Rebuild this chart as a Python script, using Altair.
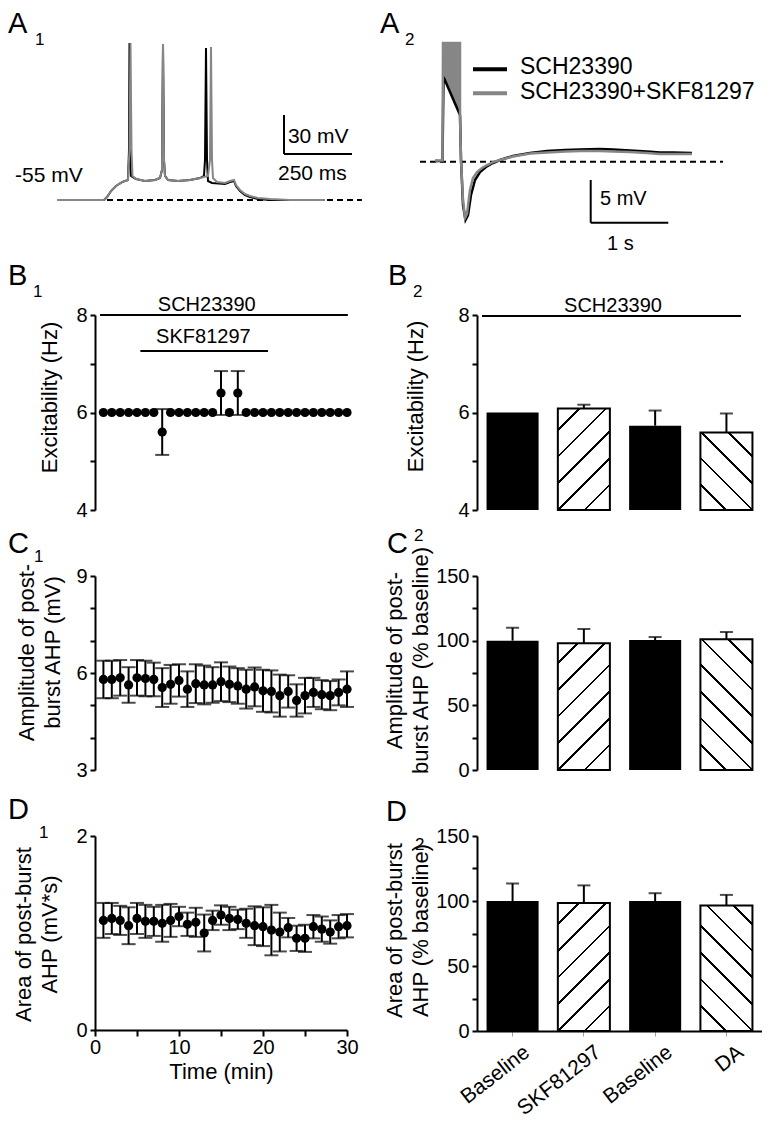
import math
import altair as alt
import pandas as pd

FONT = "Liberation Sans"
GRAY = "#868686"

# ---------------- A1: current-step responses (time ms, Vm mV) ----------------
a1_black_t = [0, 173, 184, 198.5, 216.9, 239, 261, 264.7, 266.5, 268.4, 272, 290.4, 323.5, 360.3, 378.7,
              386, 389.7, 393.4, 397.1, 408.1, 444.9, 489, 525.7, 540.4, 544.1, 547.8, 551.5, 555.1, 569.9,
              617.6, 636, 650.7, 658.1, 672.8, 691.2, 709.6, 739, 783.1, 985.3]
a1_black_v = [-55, -55, -52.7, -48.1, -44.2, -41.2, -39.6, -16.5, 65.8, -16.5, -36.5, -38.8, -40.4, -39.6, -38.1,
              -31.9, 65, -24.2, -36.5, -39.6, -40.4, -39.6, -38.1, -36.5, -24.2, 61.9, -24.2, -40.4, -41.9,
              -42.7, -41.2, -40.4, -44.2, -48.1, -51.2, -52.7, -54.2, -55, -55]
a1_gray_t = [0, 173, 184, 198.5, 216.9, 239, 261, 266.5, 270.2, 273.9, 277.6, 290.4, 323.5, 360.3, 378.7,
             386, 389.7, 393.4, 397.1, 408.1, 444.9, 489, 525.7, 555.1, 562.5, 566.2, 569.9, 573.5, 588.2,
             617.6, 636, 650.7, 658.1, 672.8, 691.2, 709.6, 739, 783.1, 856.6, 985.3]
a1_gray_v = [-55, -55, -52.7, -48.1, -44.2, -41.2, -39.6, -16.5, 65.8, -16.5, -36.5, -38.8, -40.4, -39.6, -38.1,
             -31.9, 65, -24.2, -36.5, -39.6, -40.4, -39.6, -38.1, -36.5, -24.2, 62.7, -24.2, -38.1, -41.2,
             -41.9, -40.4, -39.6, -43.5, -47.3, -50.4, -51.9, -53.5, -54.2, -55, -55]

# ---------------- A2: post-burst AHP (time ms, mV from baseline) ----------------
a2_black_t = [0, 96.6, 109.5, 322.2, 335.1, 360.8, 393, 425.3, 463.9, 515.5, 579.9, 657.2, 747.4, 837.6,
              1005.2, 1224.2, 1443.3, 1675.3, 1868.6, 2126.3, 2293.8, 2512.9, 2731.9, 2899.5, 3067, 3311.9]
a2_black_v = [0.08, 0.08, 9.92, 5.47, 0.2, -5.07, -6.83, -6.24, -3.9, -2.14, -1.21, -0.62, -0.15, 0.2,
              0.67, 1.02, 1.25, 1.37, 1.43, 1.49, 1.43, 1.31, 1.19, 1.08, 1.08, 1.02]
a2_gray_t = [0, 96.6, 103.1, 322.2, 322.2, 335.1, 360.8, 386.6, 412.4, 451, 489.7, 541.2, 605.7, 670.1,
             747.4, 837.6, 1005.2, 1224.2, 1443.3, 1675.3, 1868.6, 2126.3, 2293.8, 2512.9, 2731.9, 2899.5,
             3067, 3311.9]
a2_gray_v = [0.14, 0.14, 13.9, 13.9, 5.47, 0.2, -4.48, -6.59, -6.12, -3.31, -1.91, -1.21, -0.74, -0.39,
             -0.04, 0.2, 0.61, 0.96, 1.08, 1.19, 1.25, 1.25, 1.19, 1.14, 1.02, 0.9, 0.9, 0.9]
a2_burst_t = [103.1, 322.2]
a2_burst_top = [13.9, 13.9]
a2_burst_bottom = [9.92, 5.47]
legend_labels = ["SCH23390", "SCH23390+SKF81297"]

# ---------------- B1 / C1 / D1: time courses ----------------
minutes = [1, 2, 3, 4, 5, 6, 7, 8, 9, 10, 11, 12, 13, 14, 15, 16, 17, 18, 19, 20,
           21, 22, 23, 24, 25, 26, 27, 28, 29, 30]
b1_mean = [6, 6, 6, 6, 6, 6, 6, 5.6, 6, 6, 6, 6, 6, 6, 6.4, 6.0, 6.4, 6, 6, 6,
           6, 6, 6, 6, 6, 6, 6, 6, 6, 6]
b1_sem = [0, 0, 0, 0, 0, 0, 0, 0.47, 0, 0, 0, 0, 0, 0, 0.45, 0, 0.45, 0, 0, 0,
          0, 0, 0, 0, 0, 0, 0, 0, 0, 0]
c1_mean = [5.80, 5.80, 5.85, 5.63, 5.85, 5.83, 5.80, 5.55, 5.65, 5.77, 5.50, 5.67, 5.63, 5.63, 5.73,
           5.65, 5.60, 5.50, 5.57, 5.45, 5.43, 5.30, 5.43, 5.15, 5.30, 5.40, 5.33, 5.30, 5.40, 5.50]
c1_sem = [0.58, 0.58, 0.55, 0.55, 0.55, 0.55, 0.52, 0.60, 0.60, 0.50, 0.55, 0.60, 0.60, 0.55, 0.60,
          0.55, 0.55, 0.60, 0.60, 0.65, 0.65, 0.65, 0.50, 0.50, 0.55, 0.45, 0.45, 0.45, 0.40, 0.55]
d1_mean = [1.13, 1.15, 1.13, 1.075, 1.15, 1.12, 1.12, 1.10, 1.13, 1.17, 1.09, 1.11, 1.00, 1.13, 1.185,
           1.15, 1.14, 1.10, 1.075, 1.065, 1.03, 1.01, 1.055, 0.945, 0.945, 1.065, 1.04, 1.01, 1.065, 1.075]
d1_sem = [0.18, 0.16, 0.15, 0.19, 0.16, 0.17, 0.15, 0.19, 0.17, 0.10, 0.12, 0.15, 0.19, 0.10, 0.10,
          0.12, 0.10, 0.15, 0.20, 0.20, 0.26, 0.20, 0.10, 0.13, 0.14, 0.12, 0.13, 0.12, 0.12, 0.12]

# ---------------- B2 / C2 / D2: bar summaries ----------------
bar_labels = ["Baseline", "SKF81297", "Baseline", "DA"]
bar_style = ["solid", "fwd", "solid", "back"]
b2_mean = [6.0, 6.08, 5.73, 5.59]
b2_sem = [0.0, 0.08, 0.31, 0.39]
c2_mean = [100, 98, 100.5, 101]
c2_sem = [10, 11, 2.3, 5.7]
d2_mean = [100, 98.5, 100, 96.5]
d2_sem = [13.5, 13.5, 6, 8.2]

# ---------------- layout ----------------
LW, RW = 252, 285
A_H, B_H, C_H, D1_H, D2_H = 209, 195, 194, 194, 195
P_IN, P_OUT = 0.27, 0.134
ONE = pd.DataFrame({"k": [0]})


def px_text(txt, x, y, size, align="left"):
    return alt.Chart(ONE).mark_text(text=txt, fontSize=size, font=FONT, align=align,
                                    baseline="alphabetic", color="black").encode(
        x=alt.value(x), y=alt.value(y))


def panel_label(letter, sub, lx, ly, sx, sy):
    return [px_text(letter, lx, ly, 29), px_text(sub, sx, sy, 17)]


def trace_df(t, v):
    return pd.DataFrame({"t": t, "v": v, "i": list(range(len(t)))})


def hatch(W, H, kind, period=26.7, lw=2.0):
    total = W + H
    half = lw * math.sqrt(2) / 2
    ref = H if kind == "fwd" else W
    centers = [ref + m * period for m in range(-60, 61) if -half < ref + m * period < total + half]
    stops = [{"offset": 0.0, "color": "white"}]
    for c in centers:
        a = max(0.0, (c - half) / total)
        b = min(1.0, (c + half) / total)
        stops += [{"offset": a, "color": "white"}, {"offset": a, "color": "black"},
                  {"offset": b, "color": "black"}, {"offset": b, "color": "white"}]
    stops.append({"offset": 1.0, "color": "white"})
    L = (W * W + H * H) / total
    if kind == "fwd":
        x1, y1, x2, y2 = 0, 0, W / L, H / L
    else:
        x1, y1, x2, y2 = 0, 1, W / L, 1 - H / L
    return {"gradient": "linear", "x1": x1, "y1": y1, "x2": x2, "y2": y2, "stops": stops}


# ---------------- A1 ----------------
xs1 = alt.Scale(domain=[139.7, 1066.2], nice=False, zero=False)
ys1 = alt.Scale(domain=[-92.7, 68.1], nice=False, zero=False)
X1 = alt.X("t:Q", scale=xs1, axis=None)
Y1 = alt.Y("v:Q", scale=ys1, axis=None)
a1_dash = pd.DataFrame({"t": [0], "t2": [1121], "v": [-55]})
a1_bars = pd.DataFrame({"t": [834.6, 834.6], "t2": [834.6, 1084.6], "v": [-19.6, -19.6], "v2": [10.4, -19.6]})
a1_txt = pd.DataFrame({"t": [849, 812.5, -154.4], "v": [-11.2, -39.6, -41.2],
                       "lab": ["30 mV", "250 ms", "-55 mV"]})
a1_layers = [
    alt.Chart(ONE).mark_rule(opacity=0, strokeWidth=1).encode(
        x=alt.value(-87), x2=alt.value(-87), y=alt.value(-32), y2=alt.value(-32)),
    alt.Chart(a1_dash).mark_rule(color="black", strokeWidth=2, strokeDash=[6, 4]).encode(
        x=X1, x2="t2:Q", y=Y1),
    alt.Chart(trace_df(a1_black_t, a1_black_v)).mark_line(color="black", strokeWidth=2).encode(
        x=X1, y=Y1, order="i:Q"),
    alt.Chart(trace_df(a1_gray_t, a1_gray_v)).mark_line(color=GRAY, strokeWidth=2).encode(
        x=X1, y=Y1, order="i:Q"),
    alt.Chart(a1_bars).mark_rule(color="black", strokeWidth=2).encode(
        x=X1, x2="t2:Q", y=Y1, y2="v2:Q"),
    alt.Chart(a1_txt).mark_text(align="left", baseline="alphabetic", fontSize=21, font=FONT,
                                color="black").encode(x=X1, y=Y1, text="lab:N"),
] + panel_label("A", "1", -87, -7, -60, 5)
a1 = alt.layer(*a1_layers).properties(width=LW, height=A_H)

# ---------------- A2 ----------------
xs2 = alt.Scale(domain=[541.2, 4213.9], nice=False, zero=False)
ys2 = alt.Scale(domain=[-10.22, 14.25], nice=False, zero=False)
X2 = alt.X("t:Q", scale=xs2, axis=None)
Y2 = alt.Y("v:Q", scale=ys2, axis=None)
a2_dash = pd.DataFrame({"t": [-193.3], "t2": [3711.3], "v": [0]})
a2_bars = pd.DataFrame({"t": [2006.4, 2006.4], "t2": [2006.4, 3006.4], "v": [-2.14, -7.14], "v2": [-7.14, -7.14]})
a2_burst = pd.DataFrame({"t": a2_burst_t, "v": a2_burst_top, "v2": a2_burst_bottom})
a2_txt = pd.DataFrame({"t": [2126.3, 2216.5], "v": [-5.07, -10.34], "lab": ["5 mV", "1 s"]})
leg_lines = pd.DataFrame({"t": [489.7], "t2": [927.8], "v": [10.82]})
leg_lines2 = pd.DataFrame({"t": [489.7], "t2": [927.8], "v": [8.01]})
leg_txt = pd.DataFrame({"t": [1095.4, 1095.4], "v": [10.27, 7.34], "lab": legend_labels})
a2_layers = [
    alt.Chart(a2_dash).mark_rule(color="black", strokeWidth=2, strokeDash=[6, 4]).encode(
        x=X2, x2="t2:Q", y=Y2),
    alt.Chart(a2_burst).mark_area(color=GRAY, opacity=1).encode(x=X2, y=Y2, y2="v2:Q"),
    alt.Chart(trace_df(a2_black_t, a2_black_v)).mark_line(color="black", strokeWidth=2.5).encode(
        x=X2, y=Y2, order="i:Q"),
    alt.Chart(trace_df(a2_gray_t, a2_gray_v)).mark_line(color=GRAY, strokeWidth=2.5).encode(
        x=X2, y=Y2, order="i:Q"),
    alt.Chart(a2_bars).mark_rule(color="black", strokeWidth=2).encode(
        x=X2, x2="t2:Q", y=Y2, y2="v2:Q"),
    alt.Chart(a2_txt).mark_text(align="left", baseline="alphabetic", fontSize=20, font=FONT,
                                color="black").encode(x=X2, y=Y2, text="lab:N"),
    alt.Chart(leg_lines).mark_rule(color="black", strokeWidth=4).encode(x=X2, x2="t2:Q", y=Y2),
    alt.Chart(leg_lines2).mark_rule(color=GRAY, strokeWidth=4).encode(x=X2, x2="t2:Q", y=Y2),
    alt.Chart(leg_txt).mark_text(align="left", baseline="alphabetic", fontSize=23, font=FONT,
                                 color="black").encode(x=X2, y=Y2, text="lab:N"),
] + panel_label("A", "2", -97, -7, -72, 5)
a2 = alt.layer(*a2_layers).properties(width=RW, height=A_H)


# ---------------- time-course panels ----------------
def yaxis(values, mod, title, tp, ty):
    return alt.Axis(values=values, format="d", labelExpr=f"datum.value % {mod} == 0 ? datum.label : ''",
                    title=title, titlePadding=tp, titleY=ty, titleLineHeight=26,
                    labelOverlap=False, labelFlush=False)


def time_panel(mean, sem, ydom, yax, height, xaxis, extra):
    df = pd.DataFrame({"t": minutes, "m": mean, "s": sem})
    df["lo"] = df["m"] - df["s"]
    df["hi"] = df["m"] + df["s"]
    xs = alt.Scale(domain=[0, 30], nice=False, zero=False)
    ys = alt.Scale(domain=ydom, nice=False, zero=False)
    X = alt.X("t:Q", scale=xs, axis=xaxis)
    base = alt.Chart(df)
    err = base.transform_filter("datum.s > 0")
    layers = [
        err.mark_rule(color="black", strokeWidth=2).encode(
            x=X, y=alt.Y("lo:Q", scale=ys, axis=yax), y2="hi:Q"),
        err.mark_tick(color="black", thickness=2, size=14, orient="horizontal").encode(
            x=X, y=alt.Y("lo:Q", scale=ys, axis=yax)),
        err.mark_tick(color="black", thickness=2, size=14, orient="horizontal").encode(
            x=X, y=alt.Y("hi:Q", scale=ys, axis=yax)),
        base.mark_circle(color="black", opacity=1, size=85).encode(
            x=X, y=alt.Y("m:Q", scale=ys, axis=yax)),
    ] + extra
    return alt.layer(*layers).properties(width=LW, height=height)


# B1 annotation bars (drug application periods)
b1_ann = pd.DataFrame({"t": [0.6, 5.4], "t2": [30.1, 20.6], "y": [8, 7.26]})
b1_ann_txt = pd.DataFrame({"t": [13.3, 12.9], "y": [8, 7.26], "lab": ["SCH23390", "SKF81297"]})
b1_xs = alt.Scale(domain=[0, 30], nice=False, zero=False)
b1_ys = alt.Scale(domain=[4, 8], nice=False, zero=False)
b1_axis = yaxis([4, 5, 6, 7, 8], 2, "Excitability (Hz)", 14, 82)
B1X = alt.X("t:Q", scale=b1_xs, axis=None)
B1Y = alt.Y("y:Q", scale=b1_ys, axis=b1_axis)
b1_extra = [
    alt.Chart(b1_ann).mark_rule(color="black", strokeWidth=2).encode(x=B1X, x2="t2:Q", y=B1Y),
    alt.Chart(b1_ann_txt.iloc[[0]]).mark_text(fontSize=20, font=FONT, dy=-4, baseline="alphabetic",
                                               color="black").encode(x=B1X, y=B1Y, text="lab:N"),
    alt.Chart(b1_ann_txt.iloc[[1]]).mark_text(fontSize=20, font=FONT, dy=-8, baseline="alphabetic",
                                               color="black").encode(x=B1X, y=B1Y, text="lab:N"),
] + panel_label("B", "1", -87, -30, -62, -18)
b1 = time_panel(b1_mean, b1_sem, [4, 8], b1_axis, B_H, None, b1_extra)

c1_axis = yaxis([3, 4, 5, 6, 7, 8, 9], 3, ["Amplitude of post-", "burst AHP (mV)"], 11, 76)
c1 = time_panel(c1_mean, c1_sem, [3, 9], c1_axis, C_H, None,
                panel_label("C", "1", -87, -23, -61, -14))

d1_axis = yaxis([0, 0.5, 1, 1.5, 2], 1, ["Area of post-burst", "AHP (mV*s)"], 14, 98)
d1_xaxis = alt.Axis(values=[0, 5, 10, 15, 20, 25, 30], format="d",
                    labelExpr="datum.value % 10 == 0 ? datum.label : ''",
                    title="Time (min)", titlePadding=4, tickSize=6, labelPadding=1,
                    labelFlush=False, labelOverlap=False)
d1 = time_panel(d1_mean, d1_sem, [0, 2], d1_axis, D1_H, d1_xaxis,
                panel_label("D", "1", -87, -17, -56, 2))


# ---------------- bar panels ----------------
def bar_panel(mean, sem, ymin, ymax, height, yax, xaxis, extra):
    keys = [f"{c}_{i}" for i, c in enumerate(bar_labels)]
    df = pd.DataFrame({"key": keys, "m": mean, "s": sem, "style": bar_style})
    df["hi"] = df["m"] + df["s"]
    df["base"] = ymin
    xs = alt.Scale(domain=keys, paddingInner=P_IN, paddingOuter=P_OUT)
    ys = alt.Scale(domain=[ymin, ymax], nice=False, zero=False)
    X = alt.X("key:N", scale=xs, axis=xaxis, sort=keys)
    Y = alt.Y("m:Q", scale=ys, axis=yax)
    base = alt.Chart(df)
    layers = [base.transform_filter("datum.style == 'solid'").mark_bar(color="black").encode(
        x=X, y=Y, y2="base:Q")]
    bw = RW / (len(keys) - P_IN + 2 * P_OUT) * (1 - P_IN)
    pxu = height / (ymax - ymin)
    for k, m, st in zip(keys, mean, bar_style):
        if st == "solid":
            continue
        layers.append(base.transform_filter(alt.datum.key == k).mark_bar(
            fill=hatch(bw, (m - ymin) * pxu, st), stroke="black", strokeWidth=2).encode(
            x=X, y=Y, y2="base:Q"))
    err = base.transform_filter("datum.s > 0")
    layers.append(err.mark_rule(color="black", strokeWidth=2).encode(x=X, y=Y, y2="hi:Q"))
    layers.append(err.mark_tick(color="black", thickness=2, size=13, orient="horizontal").encode(
        x=X, y=alt.Y("hi:Q", scale=ys, axis=yax)))
    return alt.layer(*(layers + extra)).properties(width=RW, height=height)


b2_axis = yaxis([4, 5, 6, 7, 8], 2, "Excitability (Hz)", 30, 81)
b2 = bar_panel(b2_mean, b2_sem, 4, 8, B_H, b2_axis, None,
               [alt.Chart(ONE).mark_rule(color="black", strokeWidth=2).encode(
                   x=alt.value(5), x2=alt.value(264), y=alt.value(1)),
                px_text("SCH23390", 136, -3, 20, align="center")]
               + panel_label("B", "2", -89, -30, -64, -18))

c2_axis = yaxis([0, 25, 50, 75, 100, 125, 150], 50,
                ["Amplitude of post-", "burst AHP (% baseline)"], 3, 84)
c2 = bar_panel(c2_mean, c2_sem, 0, 150, C_H, c2_axis, None,
               panel_label("C", "2", -90, -23, -63, -35))

d2_axis = yaxis([0, 25, 50, 75, 100, 125, 150], 50,
                ["Area of post-burst", "AHP (% baseline)"], 3, 94)
d2_xaxis = alt.Axis(labelExpr="split(datum.label, '_')[0]", labelAngle=-38, labelFontSize=21,
                    labelOffset=8, tickColor="#a0a0a0", tickWidth=1, tickSize=5, labelPadding=5,
                    title=None)
d2 = bar_panel(d2_mean, d2_sem, 0, 150, D2_H, d2_axis, d2_xaxis,
               panel_label("D", "2", -91, -15, -62, 14))

chart = alt.concat(a1, a2, b1, b2, c1, c2, d1, d2, columns=2,
                   spacing={"row": 66, "column": 130}, bounds="flush", align="each",
                   padding=0).configure_axis(
    domainColor="black", domainWidth=2, tickColor="black", tickWidth=2, tickSize=5,
    labelFont=FONT, labelFontSize=20, labelColor="black", labelPadding=3,
    titleFont=FONT, titleFontSize=22, titleFontWeight="normal", titleColor="black", grid=False
).configure_view(stroke=None)

chart.save("out.html", embed_options={"renderer": "svg", "actions": False})
